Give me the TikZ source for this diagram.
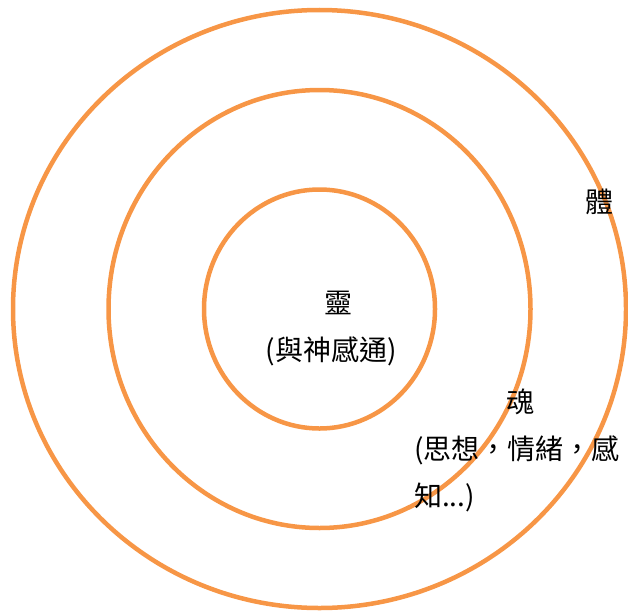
\documentclass[tikz,border=0pt]{standalone}
\usepackage{fontspec}
\setmainfont{Noto Sans CJK TC}
\usetikzlibrary{shapes.geometric}
\definecolor{ringorange}{HTML}{F79646}
\tikzset{
  ring/.style={draw=ringorange, line width=4.5pt, ellipse, inner sep=0pt, fill=none},
  lbl/.style={inner sep=0pt, text=black, font=\fontsize{28}{32}\selectfont}
}
\begin{document}
\begin{tikzpicture}[x=1pt,y=-1pt]
\useasboundingbox (0,0) rectangle (628,610);
\coordinate (c) at (319.5,309);
\node[ring, minimum width=613pt, minimum height=598pt] (outer) at (c) {};
\node[ring, minimum width=422pt, minimum height=438pt] (middle) at (c) {};
\node[ring, minimum width=231pt, minimum height=239pt] (inner) at (c) {};
\node[lbl] (ling) at (338,303) {靈};
\node[lbl] (lingsub) at (331,351) {(與神感通)};
\node[lbl] (hun) at (520,402) {魂};
\node[lbl, anchor=west] (hunsub1) at (414,450) {(思想，情緒，感};
\node[lbl, anchor=west] (hunsub2) at (414,497) {知...)};
\node[lbl] (ti) at (599,202) {體};
\end{tikzpicture}
\end{document}
